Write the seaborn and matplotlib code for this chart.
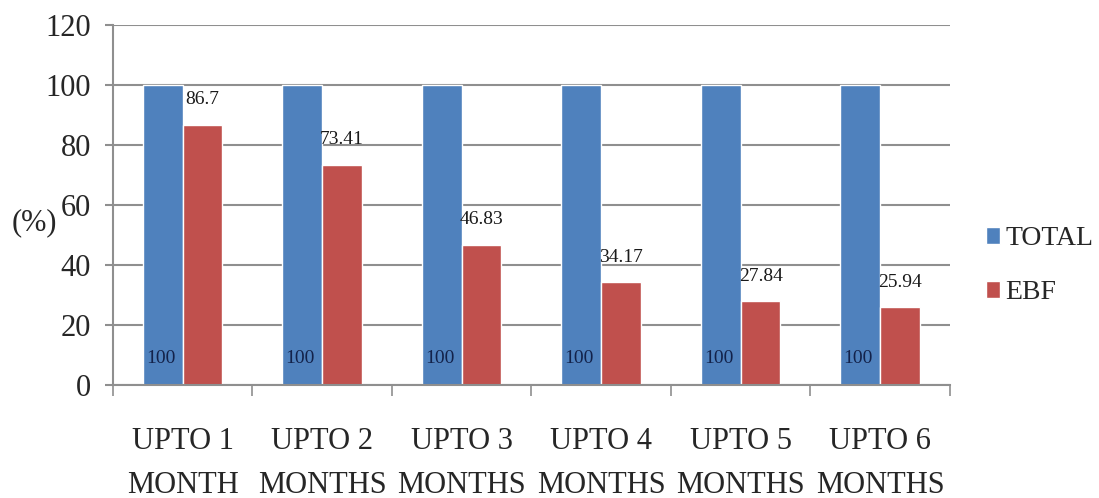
import matplotlib
matplotlib.use("Agg")
import matplotlib.pyplot as plt
import seaborn as sns
import pandas as pd

# Exclusive breastfeeding vs total infants, by age band
categories = ["UPTO 1\nMONTH", "UPTO 2\nMONTHS", "UPTO 3\nMONTHS",
              "UPTO 4\nMONTHS", "UPTO 5\nMONTHS", "UPTO 6\nMONTHS"]
total = [100, 100, 100, 100, 100, 100]
ebf = [86.7, 73.41, 46.83, 34.17, 27.84, 25.94]
series_names = ["TOTAL", "EBF"]
y_ticks = [0, 20, 40, 60, 80, 100, 120]

df = pd.DataFrame({"category": categories, "TOTAL": total, "EBF": ebf})
long_df = df.melt(id_vars="category", value_vars=series_names,
                  var_name="series", value_name="percent")

sns.set_theme(style="white")
plt.rcParams["font.family"] = ["Liberation Serif", "DejaVu Serif"]

fig = plt.figure(figsize=(10.99, 4.98), dpi=100)
ax = fig.add_axes([0.1028, 0.2269, 0.7616, 0.7229])

palette = {"TOTAL": "#4F81BD", "EBF": "#C0504D"}
sns.barplot(data=long_df, x="category", y="percent", hue="series",
            hue_order=series_names, palette=palette, width=0.57,
            saturation=1, ax=ax, legend=True, errorbar=None)

grid_color = "#8f8f8f"
ax.set_ylim(0, 120)
ax.set_xlim(-0.5, len(categories) - 0.5)
ax.set_yticks(y_ticks)
ax.set_yticklabels([str(v) for v in y_ticks], fontsize=22)
ax.yaxis.grid(True, color=grid_color, linewidth=1.5)
ax.set_axisbelow(True)
ax.tick_params(axis="y", length=6, width=1.5, color=grid_color, pad=10,
               left=True)

# category labels sit between boundary ticks
ax.set_xticks(range(len(categories)))
ax.set_xticklabels(categories, fontsize=22, linespacing=1.7)
ax.tick_params(axis="x", length=0, pad=30)
ax.set_xticks([i - 0.5 for i in range(len(categories) + 1)], minor=True)
ax.tick_params(axis="x", which="minor", length=8, width=1.2,
               color=grid_color, bottom=True)

for side in ["top", "right"]:
    ax.spines[side].set_visible(False)
for side in ["left", "bottom"]:
    ax.spines[side].set_color(grid_color)
    ax.spines[side].set_linewidth(1.5)

ax.set_xlabel("")
ax.set_ylabel("")
fig.text(0.031, 0.552, "(%)", fontsize=22, ha="center", va="center")

# value labels above the EBF bars
ebf_bars = ax.containers[1]
ax.bar_label(ebf_bars, labels=[f"{v:g}" for v in ebf], padding=12,
             fontsize=14, color="#1a1a1a")

# value labels near the base of the TOTAL bars
total_bars = ax.containers[0]
for patch, v in zip(total_bars, total):
    ax.text(patch.get_x() + patch.get_width() * 0.45, 9, f"{v:g}",
            ha="center", va="center", fontsize=14, color="#13224a")

handles, labels = ax.get_legend_handles_labels()
ax.legend(handles, labels, loc="upper left", bbox_to_anchor=(0.897, 0.546),
          bbox_transform=fig.transFigure, frameon=False, fontsize=20,
          handlelength=0.5, handleheight=0.55, handletextpad=0.2,
          labelspacing=1.05, borderpad=0, borderaxespad=0)

fig.savefig("out.png", dpi=100)
